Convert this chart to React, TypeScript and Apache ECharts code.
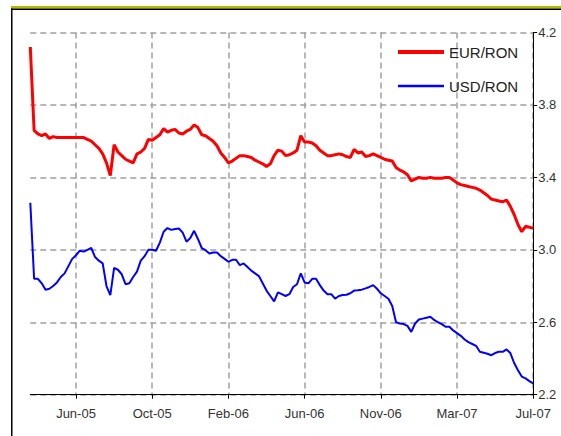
import React, { useEffect, useRef } from "react";
import * as echarts from "echarts";

const tickLabels = ["Jun-05", "Oct-05", "Feb-06", "Jun-06", "Nov-06", "Mar-07", "Jul-07"];
const firstTickIndex = 12;
const pointsPerTick = 20;
const yTicks = [2.2, 2.6, 3.0, 3.4, 3.8, 4.2];

const eurRon = [
  4.12, 3.66, 3.64, 3.63, 3.64, 3.615, 3.625, 3.62, 3.62, 3.62,
  3.62, 3.62, 3.62, 3.62, 3.62, 3.61, 3.6, 3.58, 3.56, 3.53,
  3.48, 3.41, 3.58, 3.54, 3.52, 3.5, 3.49, 3.48, 3.53, 3.54,
  3.56, 3.61, 3.605, 3.62, 3.635, 3.67, 3.65, 3.66, 3.665, 3.645,
  3.64, 3.655, 3.665, 3.69, 3.675, 3.635, 3.63, 3.615, 3.6, 3.575,
  3.535, 3.51, 3.48, 3.49, 3.505, 3.52, 3.52, 3.515, 3.51, 3.495,
  3.485, 3.475, 3.46, 3.475, 3.52, 3.55, 3.545, 3.52, 3.525, 3.535,
  3.55, 3.63, 3.595, 3.595, 3.59, 3.575, 3.55, 3.535, 3.52, 3.52,
  3.525, 3.53, 3.525, 3.515, 3.51, 3.555, 3.535, 3.54, 3.515, 3.52,
  3.53, 3.52, 3.51, 3.5, 3.495, 3.49, 3.455, 3.44, 3.43, 3.415,
  3.38, 3.39, 3.4, 3.395, 3.395, 3.4, 3.395, 3.395, 3.395, 3.4,
  3.4, 3.385, 3.37, 3.36, 3.355, 3.35, 3.345, 3.34, 3.33, 3.315,
  3.3, 3.28, 3.275, 3.27, 3.265, 3.275, 3.24, 3.195, 3.14, 3.1,
  3.13, 3.125, 3.118,
];

const usdRon = [
  3.26, 2.84, 2.84, 2.815, 2.78, 2.785, 2.8, 2.82, 2.85, 2.87,
  2.91, 2.95, 2.97, 2.995, 2.99, 3.0, 3.01, 2.96, 2.94, 2.925,
  2.8, 2.75, 2.9, 2.89, 2.865, 2.81, 2.815, 2.85, 2.88, 2.94,
  2.965, 3.0, 3.0, 2.995, 3.04, 3.1, 3.12, 3.11, 3.115, 3.118,
  3.095, 3.045, 3.065, 3.105, 3.06, 3.01, 2.998, 2.98, 2.985, 2.985,
  2.965, 2.95, 2.934, 2.945, 2.945, 2.915, 2.925, 2.905, 2.885, 2.87,
  2.855, 2.815, 2.775, 2.745, 2.715, 2.765, 2.755, 2.745, 2.755, 2.795,
  2.81, 2.87, 2.82, 2.815, 2.84, 2.84, 2.805, 2.775, 2.755, 2.755,
  2.73, 2.745, 2.75, 2.752, 2.76, 2.775, 2.777, 2.78, 2.787, 2.795,
  2.805, 2.785, 2.76, 2.745, 2.73, 2.69, 2.6, 2.593, 2.59, 2.58,
  2.547, 2.593, 2.615, 2.62, 2.625, 2.63, 2.613, 2.6, 2.59, 2.575,
  2.575, 2.555, 2.54, 2.525, 2.505, 2.49, 2.48, 2.47, 2.437, 2.432,
  2.426, 2.418, 2.43, 2.437, 2.437, 2.45, 2.43, 2.375, 2.335, 2.3,
  2.29, 2.275, 2.262,
];

const seriesNames = ["EUR/RON", "USD/RON"];

const categories = eurRon.map((_, i) => String(i));

const isTick = (index: number) =>
  index >= firstTickIndex && (index - firstTickIndex) % pointsPerTick === 0;

export default function App() {
  const ref = useRef<HTMLDivElement>(null);

  useEffect(() => {
    if (!ref.current) return;
    const chart = echarts.init(ref.current, undefined, { renderer: "svg" });
    const font = "'Liberation Sans', Arial, sans-serif";
    const gridLine = { color: "#a0a0a0", type: [6, 4] as number[], width: 1.5 };
    chart.setOption({
      animation: false,
      backgroundColor: "#ffffff",
      textStyle: { fontFamily: font },
      grid: { left: 30.3, right: 27.8, top: 32.5, bottom: 41.3, containLabel: false },
      legend: {
        orient: "vertical",
        left: 391,
        top: 39,
        itemWidth: 46,
        itemHeight: 14,
        itemGap: 18,
        textStyle: { fontSize: 15, color: "#222", fontFamily: font, lineHeight: 16 },
        itemStyle: { opacity: 0 },
        data: [
          { name: seriesNames[0], lineStyle: { width: 4 } },
          { name: seriesNames[1], lineStyle: { width: 2.5 } },
        ],
      },
      xAxis: {
        type: "category",
        boundaryGap: false,
        data: categories,
        axisLine: { show: true, lineStyle: { color: "#000", width: 1 } },
        axisTick: {
          show: true,
          interval: (index: number) => isTick(index),
          length: 4,
          lineStyle: { color: "#000" },
        },
        axisLabel: {
          interval: (index: number) => isTick(index),
          formatter: (v: string) => {
            const k = (Number(v) - firstTickIndex) / pointsPerTick;
            return tickLabels[k] ?? "";
          },
          fontSize: 13,
          color: "#333",
          margin: 12,
          fontFamily: font,
        },
        splitLine: {
          show: true,
          interval: (index: number) => isTick(index),
          lineStyle: gridLine,
        },
      },
      yAxis: {
        type: "value",
        position: "right",
        min: 2.2,
        max: 4.2,
        axisLine: { show: true, lineStyle: { color: "#000", width: 1 } },
        axisTick: { show: true, length: 4, customValues: yTicks, lineStyle: { color: "#000" } },
        axisLabel: {
          customValues: yTicks,
          formatter: (v: number) => v.toFixed(1),
          fontSize: 13,
          color: "#333",
          margin: 5,
          fontFamily: font,
        },
        splitLine: { show: true, lineStyle: gridLine },
      },
      series: [
        {
          name: seriesNames[0],
          type: "line",
          data: eurRon,
          symbol: "none",
          showSymbol: false,
          color: "#ff0000",
          lineStyle: { color: "#ff0000", width: 3 },
          z: 3,
        },
        {
          name: seriesNames[1],
          type: "line",
          data: usdRon,
          symbol: "none",
          showSymbol: false,
          color: "#0000ff",
          lineStyle: { color: "#0000ff", width: 2 },
          z: 3,
        },
      ],
      graphic: [
        { type: "rect", left: 11, top: 6, shape: { width: 550, height: 2.5 }, style: { fill: "#b8b800" }, silent: true },
        { type: "rect", left: 11, top: 8.5, shape: { width: 550, height: 1.5 }, style: { fill: "#000" }, silent: true },
        { type: "rect", left: 11, top: 8.5, shape: { width: 1.5, height: 428 }, style: { fill: "#000" }, silent: true },
      ],
    });
    return () => chart.dispose();
  }, []);

  return (
    <div
      ref={ref}
      style={{ position: "absolute", left: 0, top: 0, width: 561, height: 436 }}
    />
  );
}
